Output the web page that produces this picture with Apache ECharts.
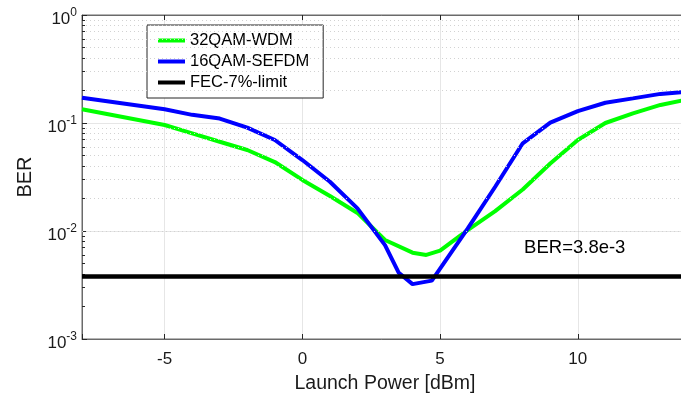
<!DOCTYPE html>
<html>
<head>
<meta charset="utf-8">
<script src="https://cdn.jsdelivr.net/npm/echarts@6/dist/echarts.min.js"></script>
<style>html,body{margin:0;padding:0;background:#fff;}#c{width:681px;height:395px;}</style>
</head>
<body>
<div id="c"></div>
<script>
// Data
const powerGreen = [-8, -5, -4, -3, -2, -1, 0, 1, 2, 3, 4, 4.5, 5, 6, 7, 8, 9, 10, 11, 12, 13, 14];
const berGreen   = [0.134, 0.0958, 0.0803, 0.0671, 0.0562, 0.0435, 0.0297, 0.0211, 0.0147, 0.00826, 0.0063, 0.0060, 0.00657, 0.0102, 0.0153, 0.0242, 0.0422, 0.0696, 0.100, 0.123, 0.147, 0.166];
const powerBlue  = [-8, -5, -4, -3, -2, -1, 0, 1, 2, 3, 3.5, 4, 4.7, 6, 7, 8, 9, 10, 11, 12, 13, 14];
const berBlue    = [0.171, 0.134, 0.119, 0.110, 0.0905, 0.0696, 0.0454, 0.0286, 0.0162, 0.0074, 0.0041, 0.00322, 0.00347, 0.0105, 0.0257, 0.0649, 0.1007, 0.129, 0.154, 0.169, 0.186, 0.195];
const fecPower   = [-8, 14];
const fecBer     = [0.0038, 0.0038];
const seriesNames = ['32QAM-WDM', '16QAM-SEFDM', 'FEC-7%-limit'];
const annotation = {text: 'BER=3.8e-3', power: 8.05, ber: 0.0069};
const minorGridValues = [0.002,0.003,0.004,0.005,0.006,0.007,0.008,0.009,
                         0.02,0.03,0.04,0.05,0.06,0.07,0.08,0.09,
                         0.2,0.3,0.4,0.5,0.6,0.7,0.8,0.9];
const xRange = [-8, 14];
const yRange = [0.001, 1];

const FONT = 'Liberation Sans, Arial, Helvetica, sans-serif';
const TXT = '#1a1a1a';
const pairs = (xs, ys) => xs.map((x, i) => [x, ys[i]]);

const chart = echarts.init(document.getElementById('c'), null, {renderer: 'canvas'});
chart.setOption({
  backgroundColor: '#fff',
  animation: false,
  textStyle: {fontFamily: FONT},
  grid: {left: 82, top: 15, width: 606, height: 324, show: true, borderColor: '#6a6a6a', borderWidth: 1,
         containLabel: false, outerBoundsMode: 'none'},
  legend: {
    orient: 'vertical', left: 147, top: 25,
    padding: [5, 14, 5, 11],
    borderColor: '#262626', borderWidth: 1, backgroundColor: '#fff',
    icon: 'rect', itemWidth: 27, itemHeight: 4, itemGap: 0,
    textStyle: {fontFamily: FONT, fontSize: 16.5, color: '#000', lineHeight: 21},
    data: seriesNames
  },
  xAxis: [{
    type: 'value', min: xRange[0], max: xRange[1], splitNumber: 5,
    name: 'Launch Power [dBm]', nameLocation: 'middle', nameGap: 35,
    nameTextStyle: {fontFamily: FONT, fontSize: 19.5, color: TXT},
    axisLine: {show: true, onZero: false, lineStyle: {color: '#6a6a6a', width: 1}},
    axisTick: {show: true, inside: true, length: 5, lineStyle: {color: '#262626'}},
    axisLabel: {fontFamily: FONT, fontSize: 17, color: TXT, margin: 12,
      formatter: v => (Math.abs(v % 5) < 1e-9 ? String(v) : '')},
    splitLine: {show: true, lineStyle: {color: '#e6e6e6', width: 1}}
  }, {
    type: 'value', min: xRange[0], max: xRange[1], splitNumber: 5, position: 'top',
    axisLine: {show: true, onZero: false, lineStyle: {color: '#6a6a6a', width: 1}},
    axisTick: {show: true, inside: true, length: 5, lineStyle: {color: '#262626'}},
    axisLabel: {show: false}, splitLine: {show: false}
  }],
  yAxis: {
    type: 'log', logBase: 10, min: yRange[0], max: yRange[1],
    name: 'BER', nameLocation: 'middle', nameGap: 47,
    nameTextStyle: {fontFamily: FONT, fontSize: 20, color: TXT},
    axisLine: {show: true, onZero: false, lineStyle: {color: '#6a6a6a', width: 1}},
    axisTick: {show: true, inside: true, length: 5, lineStyle: {color: '#262626'}},
    splitLine: {show: true, lineStyle: {color: '#e6e6e6', width: 1}},
    axisLabel: {
      margin: 5,
      formatter: v => '{b|10}{s|' + Math.round(Math.log10(v)) + '}',
      rich: {
        b: {fontFamily: FONT, fontSize: 17, color: TXT, lineHeight: 20, padding: [8, 0, 0, 0]},
        s: {fontFamily: FONT, fontSize: 12, color: TXT, lineHeight: 12, padding: [6, 0, 10, 0]}
      }
    }
  },
  series: [
    {
      name: 'minor-grid', type: 'line', data: [], silent: true, z: 1,
      markLine: {
        silent: true, symbol: 'none', label: {show: false}, animation: false,
        lineStyle: {color: '#d2d2d2', type: [1, 3], width: 1},
        data: minorGridValues.map(v => ({yAxis: v}))
      }
    },
    {
      name: 'minor-ticks', type: 'line', data: [], silent: true, z: 2,
      markLine: {
        silent: true, symbol: 'none', label: {show: false}, animation: false,
        lineStyle: {color: '#262626', type: 'solid', width: 1},
        data: minorGridValues.map(v => [{coord: [xRange[0], v]}, {coord: [xRange[0] + 0.11, v]}])
      }
    },
    {
      name: seriesNames[0], type: 'line', data: pairs(powerGreen, berGreen),
      showSymbol: false, symbol: 'none', color: '#00ff00',
      lineStyle: {color: '#00ff00', width: 4}, z: 3
    },
    {
      name: seriesNames[1], type: 'line', data: pairs(powerBlue, berBlue),
      showSymbol: false, symbol: 'none', color: '#0000ff',
      lineStyle: {color: '#0000ff', width: 4}, z: 4
    },
    {
      name: seriesNames[2], type: 'line', data: pairs(fecPower, fecBer),
      showSymbol: false, symbol: 'none', color: '#000000',
      lineStyle: {color: '#000000', width: 4.5}, z: 5,
      markPoint: {
        symbol: 'circle', symbolSize: 0, silent: true,
        label: {show: true, position: 'right', distance: 0, formatter: annotation.text,
          fontFamily: FONT, fontSize: 18.5, color: '#000'},
        data: [{coord: [annotation.power, annotation.ber]}]
      }
    }
  ]
});
</script>
</body>
</html>
